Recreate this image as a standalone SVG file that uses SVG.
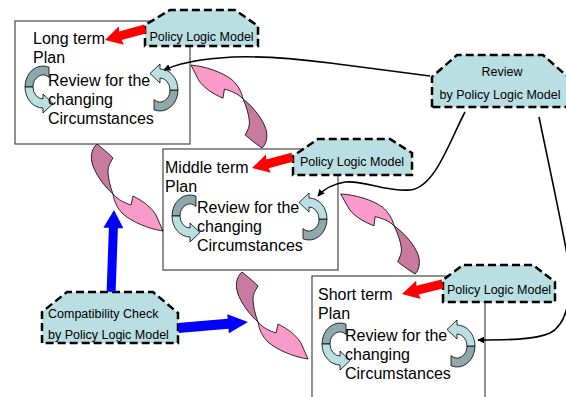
<svg xmlns="http://www.w3.org/2000/svg" width="566" height="397" viewBox="0 0 566 397">
<defs>
<style>
.plan{fill:#fff;stroke:#555;stroke-width:1.3}
.t{font-family:"Liberation Sans",Arial,sans-serif;font-size:16px;fill:#000}
.s{font-family:"Liberation Sans",Arial,sans-serif;font-size:12.5px;fill:#000}
.plm{fill:#B9DFE3;stroke:#000;stroke-width:2.5;stroke-dasharray:8,4}
.cd{fill:#8FA8AC;stroke:#000;stroke-width:0.8}
.cl{fill:#B9DFE3;stroke:#000;stroke-width:0.8}
.pd{fill:#C97A9F;stroke:#000;stroke-width:0.8}
.pl{fill:#F99AC9;stroke:#000;stroke-width:0.8}
.red{fill:#FF0000}
.blue{fill:#0000FF}
.con{fill:none;stroke:#000;stroke-width:1.6}
</style>
<g id="cyc">
<path class="cd" d="M6,-19.8 A18,21 0 0 0 -18,0 L-10,0 A10,12 0 0 1 6,-9.6 Z"/>
<path class="cl" d="M-18,0 A18,21 0 0 0 0,21 L0,26 L10,16.5 L0,7 L0,12 A10,12 0 0 1 -10,0 Z"/>
</g>
<g id="swoosh">
<path class="pd" d="M0,0 C-6,5 -7,14 -4,22 C0,33 9,44 16,50 C13,42 11,33 11,27 C11,22 13,19 16,14 C11,9 5,4 0,0 Z"/>
<path class="pl" d="M16,50 C21,56 28,59 34,61 L36,52 C46,57 54,63 59,71 L66,87 C52,85 35,78 26,70 C20,64 17,57 16,50 Z"/>
</g>
<polygon id="redarrow" class="red" points="0,0 -17,-9.5 -16,-4.5 -42,-4.5 -42,4.5 -16,4.5 -17,9.5"/>
<marker id="ah" viewBox="0 0 10 10" refX="9" refY="5" markerWidth="7" markerHeight="7" orient="auto" markerUnits="userSpaceOnUse">
<path d="M0,0 L10,5 L0,10 Z" fill="#000"/>
</marker>
</defs>

<g id="long-term">
<rect class="plan" x="15" y="21" width="175" height="123"/>
<text class="t" x="33" y="44">Long term</text>
<text class="t" x="33" y="63">Plan</text>
<use href="#cyc" transform="translate(43,87)"/>
<use href="#cyc" transform="translate(160,90) rotate(180)"/>
<text class="t" x="48" y="86">Review for the</text>
<text class="t" x="48" y="105">changing</text>
<text class="t" x="48" y="124">Circumstances</text>
</g>

<g id="middle-term">
<rect class="plan" x="163" y="149" width="175" height="121"/>
<text class="t" x="165" y="173">Middle term</text>
<text class="t" x="165" y="192">Plan</text>
<use href="#cyc" transform="translate(190,216)"/>
<use href="#cyc" transform="translate(309,219) rotate(180)"/>
<text class="t" x="197" y="213">Review for the</text>
<text class="t" x="197" y="232">changing</text>
<text class="t" x="197" y="251">Circumstances</text>
</g>

<g id="short-term">
<rect class="plan" x="312" y="276" width="173" height="130"/>
<text class="t" x="318" y="300">Short term</text>
<text class="t" x="318" y="319">Plan</text>
<use href="#cyc" transform="translate(340,344)"/>
<use href="#cyc" transform="translate(457,346) rotate(180)"/>
<text class="t" x="345" y="341">Review for the</text>
<text class="t" x="345" y="360">changing</text>
<text class="t" x="345" y="379">Circumstances</text>
</g>

<g id="flows">
<use href="#swoosh" transform="translate(97,144)"/>
<use href="#swoosh" transform="translate(242,272)"/>
<use href="#swoosh" transform="translate(262,148) rotate(176.6)"/>
<use href="#swoosh" transform="translate(415,274) rotate(174.3)"/>
</g>

<g id="plm-long">
<path class="plm" d="M145,46 L145,25 L170,10 L235,10 L258,26 L258,46 Z"/>
<text class="s" x="201.5" y="41" text-anchor="middle">Policy Logic Model</text>
</g>
<g id="plm-middle">
<path class="plm" d="M293,175 L293,156 L318,139 L390,139 L412,153 L412,175 Z"/>
<text class="s" x="352" y="166" text-anchor="middle">Policy Logic Model</text>
</g>
<g id="plm-short">
<path class="plm" d="M443,302 L443,280 L463,265 L533,265 L555,282 L555,302 Z"/>
<text class="s" x="499" y="294" text-anchor="middle">Policy Logic Model</text>
</g>
<g id="review">
<path class="plm" d="M432,107 L432,77 L457,55 L543,55 L568,77 L575,107 Z"/>
<text class="s" x="502" y="76" text-anchor="middle">Review</text>
<text class="s" x="500" y="99" text-anchor="middle">by Policy Logic Model</text>
</g>
<g id="compat">
<path class="plm" d="M42,343 L42,312 L67,292 L153,292 L178,313 L178,343 Z"/>
<text class="s" x="48" y="318">Compatibility Check</text>
<text class="s" x="48" y="339">by Policy Logic Model</text>
</g>

<g id="connectors">
<use href="#redarrow" transform="translate(105,40) rotate(164.6)"/>
<use href="#redarrow" transform="translate(252,168) rotate(165)"/>
<use href="#redarrow" transform="translate(402,294) rotate(166)"/>
<polygon class="blue" points="0,0 -18,-10 -18,-4.5 -82,-4.5 -82,4.5 -18,4.5 -18,10" transform="translate(114,210) rotate(-88)"/>
<polygon class="blue" points="0,0 -20,-9.5 -20,-5 -70,-5 -70,5 -20,5 -20,9.5" transform="translate(248,322) rotate(-4.9)"/>
<path class="con" d="M430,76 L330,63 C290,58 250,55 220,58 C195,60 177,64 164,70" marker-end="url(#ah)"/>
<path class="con" d="M465,112 C450,140 435,188 410,190 C385,192 365,180 345,182 C333,184 323,190 318,196" marker-end="url(#ah)"/>
<path class="con" d="M539,117 C550,170 562,225 568,260 C574,300 565,325 550,333 C535,340 505,340 478,340" marker-end="url(#ah)"/>
</g>
</svg>
